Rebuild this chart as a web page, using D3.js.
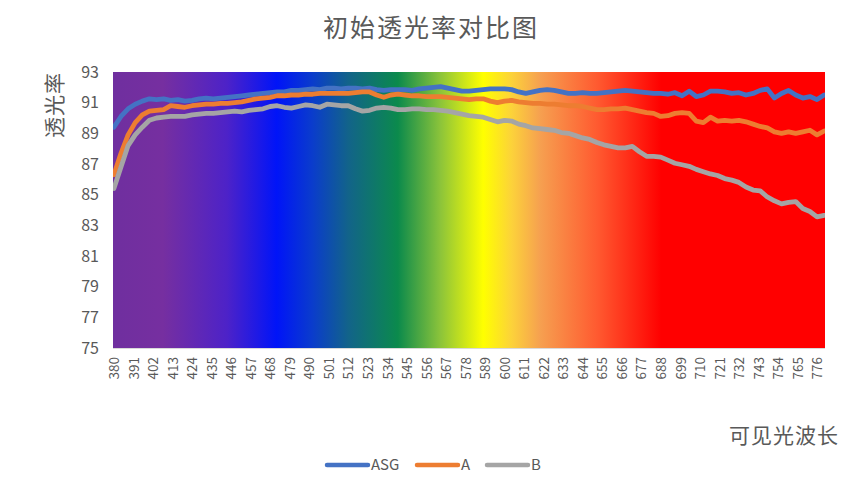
<!DOCTYPE html>
<html>
<head>
<meta charset="utf-8">
<script src="https://cdn.jsdelivr.net/npm/d3@7"></script>
<style>
  html, body { margin: 0; padding: 0; background: #ffffff; }
  svg { display: block; }
</style>
</head>
<body>
<script>
// wavelength (nm), sampled every 4 nm
const wavelengths = [
  380, 384, 388, 392, 396, 400, 404, 408, 412, 416, 420, 424, 428, 432, 436, 440, 444, 448, 452, 456,
  460, 464, 468, 472, 476, 480, 484, 488, 492, 496, 500, 504, 508, 512, 516, 520, 524, 528, 532, 536,
  540, 544, 548, 552, 556, 560, 564, 568, 572, 576, 580, 584, 588, 592, 596, 600, 604, 608, 612, 616,
  620, 624, 628, 632, 636, 640, 644, 648, 652, 656, 660, 664, 668, 672, 676, 680, 684, 688, 692, 696,
  700, 704, 708, 712, 716, 720, 724, 728, 732, 736, 740, 744, 748, 752, 756, 760, 764, 768, 772, 776,
  780
];

const asgValues = [
  89.4, 90.1, 90.6, 90.9, 91.1, 91.25, 91.2, 91.25, 91.15, 91.2, 91.1, 91.15, 91.25, 91.3, 91.25, 91.3, 91.35, 91.4, 91.45, 91.5,
  91.55, 91.6, 91.65, 91.7, 91.7, 91.8, 91.8, 91.85, 91.9, 91.85, 91.95, 91.95, 91.9, 91.95, 91.95, 91.9, 91.95, 91.85, 91.8, 91.85,
  91.85, 91.85, 91.8, 91.9, 91.95, 92.0, 92.05, 91.95, 91.85, 91.75, 91.75, 91.8, 91.85, 91.9, 91.9, 91.9, 91.85, 91.7, 91.6, 91.7,
  91.8, 91.85, 91.8, 91.7, 91.6, 91.6, 91.65, 91.6, 91.6, 91.65, 91.7, 91.75, 91.8, 91.75, 91.7, 91.65, 91.6, 91.6, 91.55, 91.65,
  91.45, 91.75, 91.4, 91.5, 91.75, 91.75, 91.7, 91.6, 91.65, 91.5, 91.6, 91.8, 91.9, 91.3, 91.6, 91.8, 91.5, 91.3, 91.4, 91.2,
  91.5
];

const aValues = [
  86.3, 87.7, 88.9, 89.7, 90.2, 90.45, 90.5, 90.55, 90.8, 90.75, 90.7, 90.8, 90.85, 90.9, 90.9, 90.95, 90.95, 91.0, 91.05, 91.15,
  91.25, 91.3, 91.35, 91.45, 91.45, 91.5, 91.5, 91.55, 91.55, 91.6, 91.6, 91.6, 91.6, 91.6, 91.65, 91.7, 91.7, 91.5, 91.35, 91.5,
  91.55, 91.5, 91.45, 91.45, 91.4, 91.4, 91.4, 91.35, 91.3, 91.25, 91.2, 91.25, 91.25, 91.1, 91.0, 91.1, 91.15, 91.05, 91.0, 90.95,
  90.95, 90.9, 90.9, 90.85, 90.8, 90.8, 90.75, 90.65, 90.55, 90.55, 90.6, 90.6, 90.65, 90.55, 90.45, 90.35, 90.3, 90.1, 90.15, 90.3,
  90.35, 90.3, 89.8, 89.7, 90.05, 89.8, 89.85, 89.8, 89.85, 89.75, 89.6, 89.45, 89.35, 89.1, 89.0, 89.1, 89.0, 89.1, 89.2, 88.9,
  89.15
];

const bValues = [
  85.4, 86.8, 88.2, 88.9, 89.4, 89.85, 90.0, 90.05, 90.1, 90.1, 90.1, 90.2, 90.25, 90.3, 90.3, 90.35, 90.4, 90.45, 90.4, 90.5,
  90.55, 90.6, 90.75, 90.8, 90.7, 90.65, 90.75, 90.85, 90.8, 90.7, 90.9, 90.85, 90.8, 90.8, 90.6, 90.45, 90.5, 90.65, 90.7, 90.65,
  90.55, 90.55, 90.6, 90.6, 90.55, 90.55, 90.5, 90.45, 90.35, 90.25, 90.15, 90.1, 90.05, 89.9, 89.75, 89.85, 89.8, 89.6, 89.5, 89.35,
  89.3, 89.25, 89.2, 89.05, 89.0, 88.85, 88.7, 88.6, 88.4, 88.25, 88.15, 88.05, 88.05, 88.15, 87.8, 87.5, 87.5, 87.45, 87.25, 87.05,
  86.95, 86.85, 86.65, 86.5, 86.35, 86.25, 86.05, 85.95, 85.8, 85.5, 85.3, 85.25, 84.85, 84.6, 84.4, 84.5, 84.55, 84.1, 83.9, 83.55,
  83.65
];

const seriesNames = ["ASG", "A", "B"];
const seriesColors = ["#4472C4", "#ED7D31", "#A5A5A5"];

const xTickLabels = [
  380, 391, 402, 413, 424, 435, 446, 457, 468, 479, 490, 501, 512, 523, 534, 545, 556, 567, 578,
  589, 600, 611, 622, 633, 644, 655, 666, 677, 688, 699, 710, 721, 732, 743, 754, 765, 776
];
const yTickLabels = [75, 77, 79, 81, 83, 85, 87, 89, 91, 93];

const width = 857;
const height = 491;
const plot = { left: 113, right: 825, top: 72, bottom: 348 };
const textColor = "#595959";
const font = "'Noto Sans CJK SC', 'Noto Sans', sans-serif";

const svg = d3
  .select("body")
  .append("svg")
  .attr("width", width)
  .attr("height", height)
  .attr("viewBox", `0 0 ${width} ${height}`);

// spectrum background for the plot area
const defs = svg.append("defs");
const grad = defs
  .append("linearGradient")
  .attr("id", "spectrum")
  .attr("x1", "0%")
  .attr("x2", "100%")
  .attr("y1", "0%")
  .attr("y2", "0%");

[
  ["0%", "#6f2f9f"],
  ["7%", "#762fa0"],
  ["16%", "#4d22c8"],
  ["23%", "#0014f8"],
  ["28%", "#0a3ccc"],
  ["33%", "#12638a"],
  ["40%", "#0b8a4c"],
  ["46%", "#8cc43a"],
  ["52%", "#ffff00"],
  ["56%", "#fcd23a"],
  ["60%", "#f6a050"],
  ["68%", "#ff5a30"],
  ["77%", "#ff0000"],
  ["100%", "#ff0000"],
].forEach(([offset, color]) => {
  grad.append("stop").attr("offset", offset).attr("stop-color", color);
});

const x = d3
  .scaleLinear()
  .domain([379.5, 780.5])
  .range([plot.left, plot.right]);

const y = d3
  .scaleLinear()
  .domain([75, 93])
  .range([plot.bottom, plot.top]);

svg
  .append("rect")
  .attr("x", plot.left)
  .attr("y", plot.top)
  .attr("width", plot.right - plot.left)
  .attr("height", plot.bottom - plot.top)
  .attr("fill", "url(#spectrum)");

// bottom axis line
svg
  .append("line")
  .attr("x1", plot.left)
  .attr("x2", plot.right)
  .attr("y1", plot.bottom + 0.5)
  .attr("y2", plot.bottom + 0.5)
  .attr("stroke", "#d9d9d9")
  .attr("stroke-width", 1);

// y axis
const yAxis = svg
  .append("g")
  .attr("transform", `translate(${plot.left},0)`)
  .call(d3.axisLeft(y).tickValues(yTickLabels).tickSize(0).tickPadding(14));
yAxis.select(".domain").remove();
yAxis
  .selectAll("text")
  .attr("fill", textColor)
  .attr("font-family", font)
  .attr("font-size", 16);

// x axis with rotated labels
const xAxis = svg
  .append("g")
  .attr("transform", `translate(0,${plot.bottom})`)
  .call(d3.axisBottom(x).tickValues(xTickLabels).tickSize(0).tickFormat(d3.format("d")));
xAxis.select(".domain").remove();
xAxis
  .selectAll("text")
  .attr("fill", textColor)
  .attr("font-family", font)
  .attr("font-size", 13.5)
  .attr("text-anchor", "end")
  .attr("dy", "0.35em")
  .attr("transform", "translate(0,9) rotate(-90)")
  .attr("x", 0)
  .attr("y", 0);

// lines
const seriesValues = [asgValues, aValues, bValues];
const line = d3
  .line()
  .x((d, i) => x(wavelengths[i]))
  .y((d) => y(d))
  .curve(d3.curveLinear);

const clip = defs.append("clipPath").attr("id", "plotClip");
clip
  .append("rect")
  .attr("x", plot.left)
  .attr("y", plot.top - 6)
  .attr("width", plot.right - plot.left)
  .attr("height", plot.bottom - plot.top + 6);

svg
  .append("g")
  .attr("clip-path", "url(#plotClip)")
  .selectAll("path")
  .data(seriesValues)
  .join("path")
  .attr("d", line)
  .attr("fill", "none")
  .attr("stroke", (d, i) => seriesColors[i])
  .attr("stroke-width", 4.8)
  .attr("stroke-linejoin", "round")
  .attr("stroke-linecap", "round");

// title
svg
  .append("text")
  .attr("x", 431)
  .attr("y", 37)
  .attr("text-anchor", "middle")
  .attr("fill", textColor)
  .attr("font-family", font)
  .attr("font-size", 25)
  .attr("letter-spacing", 2)
  .text("初始透光率对比图");

// y axis title
svg
  .append("text")
  .attr("transform", "translate(62,105) rotate(-90)")
  .attr("text-anchor", "middle")
  .attr("fill", textColor)
  .attr("font-family", font)
  .attr("font-size", 21)
  .attr("letter-spacing", 1)
  .text("透光率");

// x axis title
svg
  .append("text")
  .attr("x", 839)
  .attr("y", 443)
  .attr("text-anchor", "end")
  .attr("fill", textColor)
  .attr("font-family", font)
  .attr("font-size", 21)
  .attr("letter-spacing", 1)
  .text("可见光波长");

// legend
const legendItems = [
  { x: 327, name: seriesNames[0], color: seriesColors[0] },
  { x: 417, name: seriesNames[1], color: seriesColors[1] },
  { x: 487, name: seriesNames[2], color: seriesColors[2] },
];
const legendY = 465;
const legend = svg.append("g").selectAll("g").data(legendItems).join("g");
legend
  .append("line")
  .attr("x1", (d) => d.x)
  .attr("x2", (d) => d.x + 41)
  .attr("y1", legendY)
  .attr("y2", legendY)
  .attr("stroke", (d) => d.color)
  .attr("stroke-width", 4.5)
  .attr("stroke-linecap", "round");
legend
  .append("text")
  .attr("x", (d) => d.x + 44)
  .attr("y", legendY)
  .attr("dy", "0.36em")
  .attr("fill", textColor)
  .attr("font-family", font)
  .attr("font-size", 15)
  .text((d) => d.name);
</script>
</body>
</html>
